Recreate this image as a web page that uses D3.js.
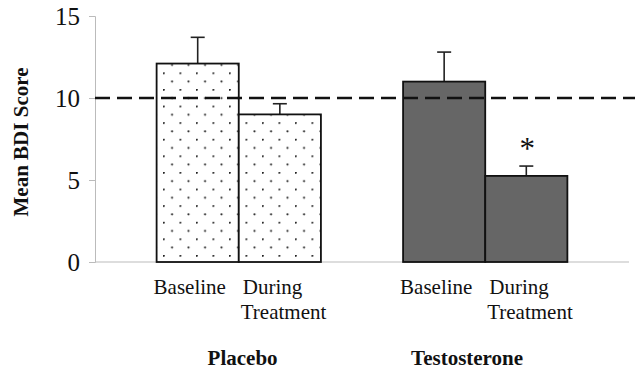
<!DOCTYPE html>
<html>
<head>
<meta charset="utf-8">
<script src="https://cdn.jsdelivr.net/npm/d3@7"></script>
<style>
  body { margin: 0; background: #fff; }
  text { font-family: "Liberation Serif", "Times New Roman", serif; fill: #111; }
</style>
</head>
<body>
<svg id="chart" width="635" height="372"></svg>
<script>
// chart data
let groups = ["Placebo", "Testosterone"];
let conditions = ["Baseline", "During Treatment"];
let means = [[12.1, 9.0], [11.0, 5.25]];
let errors = [[1.6, 0.65], [1.8, 0.6]];
let yTicks = [0, 5, 10, 15];
let cutoff = 10;

let svg = d3.select("#chart");

let y = d3.scaleLinear().domain([0, 15]).range([262, 16]);

let xGroup = d3.scaleBand().domain(groups).range([95, 629])
    .paddingInner(1 / 3).paddingOuter(0.25);
let xCond = d3.scaleBand().domain(conditions).range([0, xGroup.bandwidth()]).padding(0);

// dot pattern for placebo bars
let defs = svg.append("defs");
let pat = defs.append("pattern")
    .attr("id", "dots")
    .attr("patternUnits", "userSpaceOnUse")
    .attr("width", 16.5).attr("height", 16.6)
    .attr("x", 163).attr("y", 6);
pat.append("rect").attr("width", 16.5).attr("height", 16.6).attr("fill", "#fff");
pat.append("circle").attr("cx", 0.8).attr("cy", 0.8).attr("r", 1.05).attr("fill", "#222");
pat.append("circle").attr("cx", 9.05).attr("cy", 9.1).attr("r", 1.05).attr("fill", "#222");

// y axis
let yAxis = d3.axisLeft(y).tickValues(yTicks).tickSize(6).tickPadding(9);
let gy = svg.append("g").attr("transform", "translate(95,0)").call(yAxis);
gy.select(".domain").attr("stroke", "#bbb");
gy.selectAll(".tick line").attr("stroke", "#bbb");
gy.selectAll(".tick text")
    .style("font-family", "Liberation Serif, serif")
    .style("font-size", "25px")
    .attr("fill", "#222");

// x baseline
svg.append("line")
    .attr("x1", 95).attr("x2", 629)
    .attr("y1", y(0)).attr("y2", y(0))
    .attr("stroke", "#bbb").attr("stroke-width", 1);

// bars
let barData = [];
groups.forEach(function (g, gi) {
    conditions.forEach(function (c, ci) {
        barData.push({ group: g, gi: gi, cond: c, ci: ci, value: means[gi][ci], err: errors[gi][ci] });
    });
});

// error bars (upper only)
let eb = svg.append("g").selectAll("g").data(barData).enter().append("g");
eb.append("line")
    .attr("x1", d => xGroup(d.group) + xCond(d.cond) + xCond.bandwidth() / 2)
    .attr("x2", d => xGroup(d.group) + xCond(d.cond) + xCond.bandwidth() / 2)
    .attr("y1", d => y(d.value)).attr("y2", d => y(d.value + d.err))
    .attr("stroke", "#222").attr("stroke-width", 1.6);
eb.append("line")
    .attr("x1", d => xGroup(d.group) + xCond(d.cond) + xCond.bandwidth() / 2 - 7)
    .attr("x2", d => xGroup(d.group) + xCond(d.cond) + xCond.bandwidth() / 2 + 7)
    .attr("y1", d => y(d.value + d.err)).attr("y2", d => y(d.value + d.err))
    .attr("stroke", "#222").attr("stroke-width", 1.6);

svg.append("g").selectAll("rect").data(barData).enter().append("rect")
    .attr("x", d => xGroup(d.group) + xCond(d.cond))
    .attr("width", xCond.bandwidth())
    .attr("y", d => y(d.value))
    .attr("height", d => y(0) - y(d.value))
    .attr("fill", d => d.gi == 0 ? "url(#dots)" : "#666")
    .attr("stroke", "#111").attr("stroke-width", 1.8);

// cutoff dashed line
svg.append("line")
    .attr("x1", 95).attr("x2", 635)
    .attr("y1", y(cutoff)).attr("y2", y(cutoff))
    .attr("stroke", "#111").attr("stroke-width", 2.5)
    .attr("stroke-dasharray", "15,7");

// significance asterisk
let sig = barData[3];
svg.append("text")
    .attr("x", xGroup(sig.group) + xCond(sig.cond) + xCond.bandwidth() / 2 + 1)
    .attr("y", y(sig.value + sig.err) - 7)
    .attr("text-anchor", "middle")
    .style("font-size", "31px")
    .attr("fill", "#333")
    .text("*");

// condition labels
let lab = svg.append("g").selectAll("g").data(barData).enter().append("g");
lab.each(function (d) {
    let x0 = xGroup(d.group) + xCond(d.cond);
    let g = d3.select(this);
    if (d.ci == 0) {
        g.append("text").attr("x", x0 - 3).attr("y", 294)
            .style("font-size", "21px").text("Baseline");
    } else {
        let words = d.cond.split(" ");
        g.append("text").attr("x", x0 + 4).attr("y", 294)
            .style("font-size", "21px").text(words[0]);
        g.append("text").attr("x", x0 + 2).attr("y", 319)
            .style("font-size", "21px").text(words[1]);
    }
});

// group labels
svg.append("g").selectAll("text").data(groups).enter().append("text")
    .attr("x", (d, i) => xGroup(d) + (i == 0 ? 51 : 8))
    .attr("y", 365)
    .style("font-size", "21px").style("font-weight", "bold")
    .text(d => d);

// y axis title
svg.append("text")
    .attr("transform", "translate(28,142) rotate(-90)")
    .attr("text-anchor", "middle")
    .style("font-size", "21px").style("font-weight", "bold")
    .text("Mean BDI Score");
</script>
</body>
</html>
